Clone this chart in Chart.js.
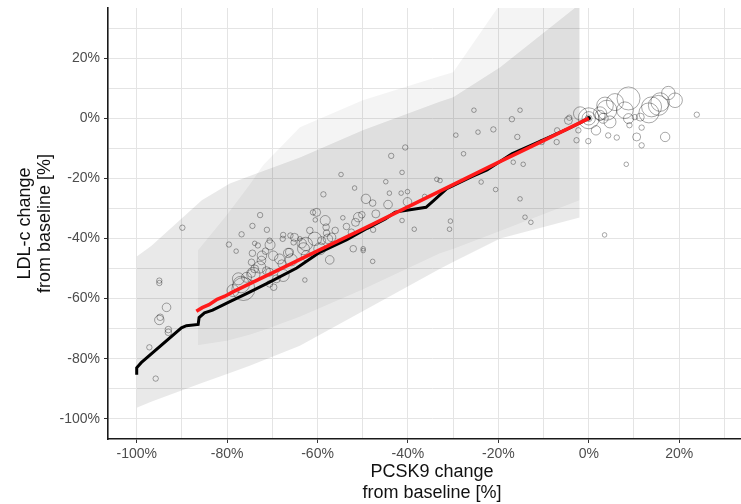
<!DOCTYPE html>
<html>
<head>
<meta charset="utf-8">
<script src="https://cdn.jsdelivr.net/npm/chart.js@4.4.1/dist/chart.umd.min.js"></script>
<style>
  html, body { margin: 0; padding: 0; background: #fff; overflow: hidden; }
  #wrap { width: 756px; height: 504px; }
  canvas { display: block; }
</style>
</head>
<body>
<div id="wrap"><canvas id="pcskChart" width="756" height="504" style="width:756px;height:504px"></canvas></div>
<script>
// study arms (% change from baseline)
const armPcsk9 = [
    23.9, 17.6, 19.1, 15.8, 13.9, 13.3, 8.8, 5.8, 4.0, 8.0, 8.8, 10.2, 9.0, 11.7, 10.6, 11.7, 16.9, 6.2, 4.3, 1.6,
    -0.1, -2.3, -2.7, 3.2, 8.3, 3.5, 3.6, 15.4, 11.4, 4.7, 2.5, -4.5, 0, 0, 0, -1.9, 2.5, -7.1, -7.0, -4.3,
    -10.4, -15.2, -17.0, -15.8, -16.7, -14.5, -15.2, -14.1, -12.8,
    -25.4, -21.1, -24.5, -29.4, -27.7, -40.6, -43.7, -54.8, -41.3, -23.8, -33.6, -32.9, -44.9, -51.8, -44.1, -41.5,
    -40.1, -58.7, -20.6, -49.3, -47.8, -44.4, -40.1, -36.3, -60.2, -61.0, -50.2, -54.4, -47.1, -30.6, -30.8, -38.6,
    -41.3, -49.9, -47.7, -51.6, -72.7, -74.4, -71.2, -58.1, -56.1, -58.0, -53.6, -52.5, -56.9, -67.6, -66.0, -65.3,
    -70.6, -73.2, -60.6, -59.1, -61.7, -63.9, -60.5, -89.9, -76.8, -79.6, -78.0, -73.9, -62.6, -66.2, -71.5, -74.4,
    -72.4, -74.6, -72.8, -75.7, -76.9, -78.7, -76.4, -70.6, -69.1, -70.6, -68.4, -65.8, -62.5, -59.5, -57.3, -62.8,
    -52.1, -49.9, -47.8, -67.6, -69.7, -73.9, -71.3, -74.6,
    -58.3, -51.0, -67.7, -65.1, -63.5, -57.7, -70.5, -72.3, -69.8, -66.5, -63.1, -67.9, -74.2, -77.5,
    -95.0, -95.0, -93.4, -94.8, -95.0, -93.0, -93.0, -97.2, -95.8
];
const armLdl = [
    1.2, 8.4, 6.0, 5.4, 3.8, 1.8, 6.6, 5.4, 2.7, 2.7, -0.1, 0.4, -2.3, -3.1, -6.2, -9.0, -6.2, -6.4, -5.7, -4.0,
    -7.6, -4.0, -7.3, 0.0, -15.3, -38.8, 4.3, 4.3, 0.4, -1.2, 1.0, -0.7, 0, 0, 0, 1.6, 1.6, -7.9, -4.0, 0.2,
    -7.9, 2.7, -0.3, -6.2, -14.6, -15.3, -26.8, -32.9, -34.6,
    2.7, -3.7, -4.6, -5.6, -11.8, -9.7, -12.5, -18.7, -18.0, -21.2, -20.3, -20.7, -21.1, -23.2, -24.9, -24.9,
    -24.4, -25.3, -23.7, -26.8, -28.2, -28.7, -27.8, -26.0, -31.3, -31.3, -32.1, -33.1, -31.8, -34.2, -36.9, -36.9,
    -34.0, -43.4, -37.1, -34.6, -32.2, -35.8, -37.1, -36.2, -37.3, -38.2, -36.0, -37.9, -39.6, -38.8, -39.0, -41.3,
    -40.7, -42.3, -40.1, -40.7, -37.3, -40.1, -33.8, -36.4, -38.6, -42.0, -44.2, -41.6, -41.8, -44.6, -44.2, -44.9,
    -47.3, -47.9, -49.5, -52.9, -55.3, -57.3, -56.8, -55.1, -53.4, -51.2, -46.8, -47.1, -45.7, -43.4, -47.1, -53.8,
    -43.4, -44.0, -47.6, -52.3, -56.2, -50.1, -50.7, -51.6,
    -34.0, -32.9, -40.1, -39.6, -41.6, -40.1, -42.1, -45.7, -45.7, -44.8, -43.4, -48.4, -51.8, -53.4,
    -54.0, -54.8, -62.9, -66.2, -67.1, -70.3, -71.2, -76.2, -86.6
];
const armSize = [
    2.7, 6.7, 7.3, 9.3, 10, 10, 11.5, 8.5, 10, 8.3, 5, 2.7, 2.7, 2.7, 4, 2.7, 4.7, 2.7, 2.7, 4.7,
    2.7, 2.7, 2.7, 5, 2.3, 2.3, 8.3, 10, 4, 6, 5, 4, 3.3, 6.7, 10.5, 6.7, 6.7, 2.7, 2.7, 2.7,
    2.7, 2.3, 2.7, 2.7, 2.3, 2.3, 2.3, 2.3, 2.3,
    2.3, 2.7, 2.3, 2.3, 2.3, 2.7, 2.7, 2.3, 2.3, 2.3, 2.3, 2.3, 2.3, 2.3, 2.3, 2.3,
    2.3, 2.7, 2.3, 4.7, 3.3, 4.3, 4.3, 2.3, 4, 2.7, 3.3, 2.3, 4, 2.3, 2.3, 2.3,
    2.3, 2.3, 2.7, 4, 2.7, 2.7, 2.7, 3.3, 3.3, 3.3, 3.3, 3.3, 4.3, 2.7, 2.7, 2.7,
    2.7, 2.7, 6.7, 4, 3.3, 2.3, 2.3, 2.7, 2.7, 2.7, 2.3, 2.3, 6.7, 4, 3.3, 3.3,
    4.3, 3.3, 6, 5, 8.3, 6, 11.5, 3.3, 4, 4, 5, 6, 5, 6, 4.3, 2.3,
    3.3, 2.3, 2.3, 6, 3.3, 4, 4, 4,
    5, 4.7, 2.7, 4, 4.7, 4.7, 5, 4.7, 4.7, 4.7, 6, 4, 6.7, 6,
    2.7, 2.7, 4.3, 3.3, 4.7, 3.3, 3.3, 2.7, 2.7
];

// black fitted curve
const blackX = [-100, -100, -99, -90.1, -89, -86.4, -86.2, -85, -83.2, -79.4, -75.7, -70.6, -64.6, -59.5, -53.5,
    -49, -45, -42.8, -36, -34.5, -31.4, -26, -22.5, -17, -10.8, -5, -1.3, 0];
const blackY = [-85.3, -83, -81.3, -69.7, -69, -68.6, -66.3, -64.7, -63.8, -61, -58.3, -54.5, -49.8, -44.6, -40.4,
    -36.6, -33.5, -31.2, -29.6, -27.6, -23.4, -19.5, -17.2, -11.8, -7.7, -3.8, -1, 0];

// red fitted curve
const redX = [-86.8, -85.5, -84, -82.2, -80.5, -78.5, -70, -60, -50, -40, -30, -20, -10, 0];
const redY = [-64.2, -63, -62, -60.2, -59.2, -57.6, -51.4, -44.1, -36.9, -29.5, -22.1, -14.7, -7.4, 0];

// prediction band of the black curve
const bandAX = [-100, -96.8, -85.6, -79.4, -75, -63.9, -50, -33, -30, -19.6, -2];
const bandAUpper = [-46, -42.5, -27.3, -21.7, -19.2, -13, -4, 5.5, 7, 17, 38];
const bandALower = [-96.3, -94.3, -88.1, -84.7, -82.3, -75.7, -64.2, -50.1, -47.8, -40, -33];

// prediction band of the red curve
const bandBX = [-86.5, -80, -75, -72, -63.9, -50, -33, -30, -19.6, -2];
const bandBUpper = [-44, -32, -22, -15.5, -3, 6, 14, 15.3, 38, 40];
const bandBLower = [-75.5, -74, -72, -70.5, -66, -57, -45, -43.5, -37.5, -27.3];

const xTicks = [-100, -80, -60, -40, -20, 0, 20];
const yTicks = [-100, -80, -60, -40, -20, 0, 20];

function toPoints(xs, ys) {
    return xs.map((x, i) => ({ x: x, y: ys[i] }));
}

function noPadding(scale) {
    scale.paddingLeft = 0;
    scale.paddingRight = 0;
    scale.paddingTop = 0;
    scale.paddingBottom = 0;
}

Chart.defaults.font.family = "'Liberation Sans', Arial, sans-serif";

const arms = armPcsk9.map((x, i) => ({ x: x, y: armLdl[i], r: armSize[i] }));

const ctx = document.getElementById('pcskChart').getContext('2d');
const pcskChart = new Chart(ctx, {
    type: 'line',
    data: {
        datasets: [
            {
                label: 'red fit',
                data: toPoints(redX, redY),
                borderColor: '#ff1a1a',
                borderWidth: 3.6,
                pointRadius: 0,
                fill: false,
                order: 0
            },
            {
                label: 'center',
                type: 'scatter',
                data: [{ x: 0, y: 0 }],
                pointRadius: 2.2,
                backgroundColor: '#000',
                borderWidth: 0,
                order: 0
            },
            {
                label: 'black fit',
                data: toPoints(blackX, blackY),
                borderColor: '#000',
                borderWidth: 3,
                pointRadius: 0,
                fill: false,
                order: 1
            },
            {
                label: 'arms',
                type: 'bubble',
                data: arms,
                backgroundColor: 'rgba(0,0,0,0)',
                borderColor: 'rgba(0,0,0,0.34)',
                borderWidth: 1,
                order: 2
            },
            {
                label: 'band A upper',
                data: toPoints(bandAX, bandAUpper),
                borderWidth: 0,
                pointRadius: 0,
                backgroundColor: 'rgba(0,0,0,0.085)',
                fill: '+1',
                order: 3
            },
            {
                label: 'band A lower',
                data: toPoints(bandAX, bandALower),
                borderWidth: 0,
                pointRadius: 0,
                fill: false,
                order: 3
            },
            {
                label: 'band B upper',
                data: toPoints(bandBX, bandBUpper),
                borderWidth: 0,
                pointRadius: 0,
                backgroundColor: 'rgba(0,0,0,0.045)',
                fill: '+1',
                order: 4
            },
            {
                label: 'band B lower',
                data: toPoints(bandBX, bandBLower),
                borderWidth: 0,
                pointRadius: 0,
                fill: false,
                order: 4
            }
        ]
    },
    options: {
        responsive: false,
        animation: false,
        devicePixelRatio: 1,
        layout: { autoPadding: false, padding: { top: 8, right: 0, left: 0, bottom: 0 } },
        plugins: {
            legend: { display: false },
            tooltip: { enabled: false }
        },
        scales: {
            x: {
                type: 'linear',
                min: -106.35,
                max: 37,
                afterFit: (scale) => { scale.height = 65; noPadding(scale); },
                ticks: {
                    stepSize: 10,
                    includeBounds: false,
                    autoSkip: false,
                    maxRotation: 0,
                    padding: 3,
                    color: '#4d4d4d',
                    font: { size: 14 },
                    callback: (v) => xTicks.includes(Math.round(v)) ? Math.round(v) + '%' : ''
                },
                grid: {
                    color: '#e4e4e4',
                    lineWidth: 1,
                    tickLength: 4,
                    tickColor: (c) => xTicks.includes(Math.round(c.tick.value)) ? '#333' : 'rgba(0,0,0,0)'
                },
                border: { color: '#1a1a1a', width: 1.6 },
                title: {
                    display: true,
                    text: ['PCSK9 change', 'from baseline [%]'],
                    color: '#111',
                    font: { size: 18, lineHeight: '21px' },
                    padding: { top: 0, bottom: 0 }
                }
            },
            y: {
                min: -106.7,
                max: 36.7,
                afterFit: (scale) => { scale.width = 108; noPadding(scale); },
                ticks: {
                    stepSize: 10,
                    includeBounds: false,
                    autoSkip: false,
                    padding: 4,
                    color: '#4d4d4d',
                    font: { size: 14 },
                    callback: (v) => yTicks.includes(Math.round(v)) ? Math.round(v) + '%' : ''
                },
                grid: {
                    color: '#e4e4e4',
                    lineWidth: 1,
                    tickLength: 4,
                    tickColor: (c) => yTicks.includes(Math.round(c.tick.value)) ? '#333' : 'rgba(0,0,0,0)'
                },
                border: { color: '#1a1a1a', width: 1.6 },
                title: {
                    display: true,
                    text: ['LDL-c change', 'from baseline [%]'],
                    color: '#111',
                    font: { size: 18, lineHeight: '20px' },
                    padding: { top: 15, bottom: 0 }
                }
            }
        }
    }
});
</script>
</body>
</html>
